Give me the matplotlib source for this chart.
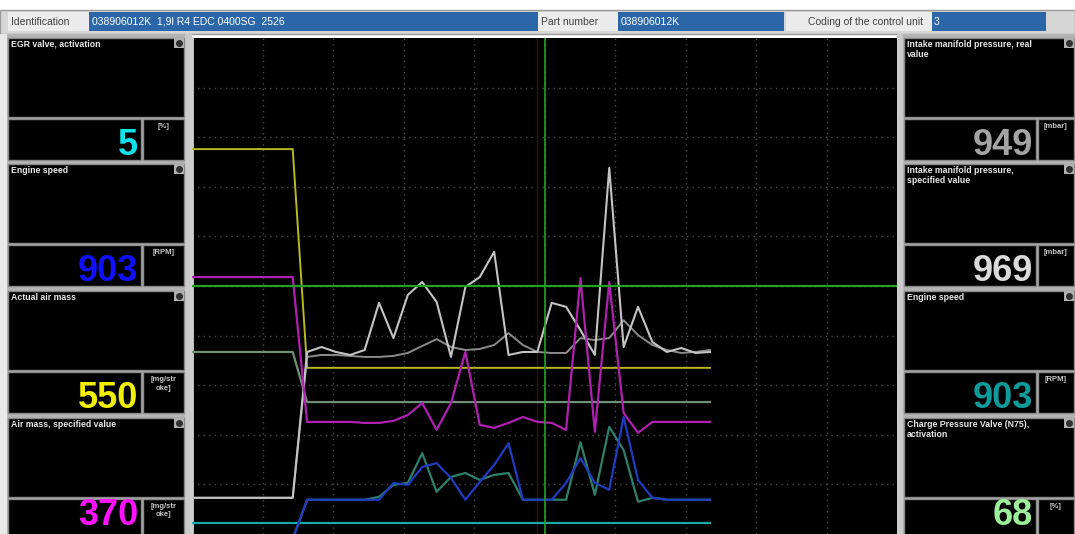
import matplotlib.pyplot as plt
from matplotlib.patches import Rectangle
import numpy as np

samples = np.arange(37)

actual_air_mass = [77.6] * 8 + [33.5] * 29
air_mass_spec = [51.8] * 8 + [22.6, 22.6, 22.6, 22.6, 22.4, 22.4, 22.8, 24.0, 26.4, 21.0, 26.4, 36.7, 22.0, 21.4,
                              22.4, 23.6, 22.6, 22.4, 21.0, 51.6, 20.6, 50.8, 24.4, 20.4, 22.6, 22.6, 22.6, 22.6, 22.6]
map_real = [7.3] * 8 + [36.7, 37.7, 36.7, 36.1, 37.1, 46.6, 39.5, 48.2, 50.8, 46.8, 35.7, 49.8, 51.8, 56.9,
                        36.1, 36.7, 36.7, 46.6, 45.8, 41.1, 36.1, 73.8, 37.7, 45.8, 38.7, 36.7, 37.5, 36.5, 36.7]
map_spec = [7.3] * 8 + [35.7, 36.1, 36.1, 35.9, 35.7, 35.7, 35.9, 36.5, 37.9, 39.3, 37.7, 37.1, 37.3, 38.1,
                        40.5, 38.1, 36.7, 36.5, 36.5, 39.5, 39.1, 39.5, 43.1, 40.1, 38.1, 37.1, 36.5, 36.7, 37.1]
charge_valve = [36.7] * 8 + [26.6] * 29
egr_valve = [2.2] * 37
engine_speed_l = [-1.0] * 8 + [6.9, 6.9, 6.9, 6.9, 6.9, 6.9, 10.3, 9.9, 13.5, 14.3, 11.3, 6.9, 10.5, 13.9,
                               18.3, 6.9, 6.9, 6.9, 10.3, 15.3, 10.3, 8.9, 23.6, 10.9, 7.3, 6.9, 6.9, 6.9, 6.9]
engine_speed_r = [-1.0] * 8 + [6.9, 6.9, 6.9, 6.9, 6.9, 7.5, 9.9, 10.3, 16.3, 8.5, 11.5, 12.3, 10.9, 11.9,
                               12.3, 6.9, 6.9, 6.9, 6.9, 18.5, 7.9, 21.6, 16.9, 6.5, 7.3, 6.9, 6.9, 6.9, 6.9]

left_titles = ["EGR valve, activation", "Engine speed", "Actual air mass", "Air mass, specified value"]
left_values = ["5", "903", "550", "370"]
left_units = ["[%]", "[RPM]", "[mg/str\noke]", "[mg/str\noke]"]
left_colors = ["#10e0ea", "#1010ff", "#f0f000", "#ff10ff"]

right_titles = ["Intake manifold pressure, real\nvalue", "Intake manifold pressure,\nspecified value",
                "Engine speed", "Charge Pressure Valve (N75),\nactivation"]
right_values = ["949", "969", "903", "68"]
right_units = ["[mbar]", "[mbar]", "[RPM]", "[%]"]
right_colors = ["#a4a4a4", "#dadada", "#0c9a9a", "#9cf09c"]

ident = "038906012K  1,9l R4 EDC 0400SG  2526"
part_number = "038906012K"
coding = "3"

plt.rcParams['font.family'] = ['Liberation Sans', 'DejaVu Sans']

fig = plt.figure(figsize=(10.75, 5.34), dpi=100, facecolor='white')

# background layer in pixel coordinates for the window frame
bg = fig.add_axes([0, 0, 1, 1])
bg.set_xlim(0, 1075)
bg.set_ylim(534, 0)
bg.axis('off')

def box(x0, y0, x1, y1, color, edge=None, z=1):
    bg.add_patch(Rectangle((x0, y0), x1 - x0, y1 - y0, facecolor=color,
                           edgecolor=edge if edge else 'none', lw=1, zorder=z))

# top info bar
box(0, 10, 1075, 34, '#d6d6d6', '#9a9a9a')
box(8, 12, 89, 31, '#ececec')
box(89, 12, 540, 31, '#2b67a8')
box(538, 12, 618, 31, '#ececec')
box(618, 12, 784, 31, '#2b67a8')
box(786, 12, 932, 31, '#ececec')
box(932, 12, 1046, 31, '#2b67a8')
bg.text(11, 22, "Identification", fontsize=7.5, color='#404040', va='center')
bg.text(92, 22, ident, fontsize=7.5, color='white', va='center')
bg.text(541, 22, "Part number", fontsize=7.5, color='#404040', va='center')
bg.text(621, 22, part_number, fontsize=7.5, color='white', va='center')
bg.text(808, 22, "Coding of the control unit", fontsize=7.5, color='#404040', va='center')
bg.text(934, 22, coding, fontsize=7.5, color='white', va='center')

# side columns
box(0, 34, 192, 534, '#b4b4b4')
box(0, 34, 7, 534, '#e8e8e8')
box(185, 34, 192, 534, '#cacaca')
box(897, 34, 1075, 534, '#b4b4b4')
box(897, 34, 903, 534, '#cacaca')

tops = [37, 163, 290, 417]

def panel(x0, x1, xsplit, top, title, value, unit, color):
    box(x0, top + 1, x1, top + 80, 'black', '#8a8a8a', 2)
    box(x0, top + 82, xsplit, top + 123, 'black', '#8a8a8a', 2)
    box(xsplit + 2, top + 82, x1, top + 123, 'black', '#8a8a8a', 2)
    box(x1 - 10, top + 1, x1, top + 11, '#b0b0b0', None, 3)
    bg.plot([x1 - 5], [top + 6], 'o', ms=4, color='#303030', zorder=4)
    bg.text(x0 + 3, top + 3, title, fontsize=6.3, fontweight='bold', color='#e8e8e8',
            va='top', ha='left', linespacing=1.15, zorder=4)
    # last row is cut by the window edge, keep the digits inside
    base = min(top + 118, 525)
    bg.text(xsplit - 3, base, value, fontsize=26, fontweight='bold', color=color,
            ha='right', va='baseline', zorder=4)
    bg.text((xsplit + x1) / 2 + 1, top + 86, unit, fontsize=5.5, fontweight='bold',
            color='#c8c8c8', ha='center', va='top', linespacing=1.3, zorder=4)

for i in range(4):
    panel(8, 184, 141, tops[i], left_titles[i], left_values[i], left_units[i], left_colors[i])
    panel(904, 1074, 1036, tops[i], right_titles[i], right_values[i], right_units[i], right_colors[i])

# graph area
ax = fig.add_axes([192 / 1075, 0, 705 / 1075, 496 / 534])
ax.set_facecolor('black')
ax.set_xlim(0, 49)
ax.set_ylim(0, 100)
for v in np.linspace(0, 49, 11)[1:-1]:
    ax.axvline(v, color='#4a4a4a', lw=1, ls=(0, (1, 3)), zorder=1)
for h in np.linspace(0, 100, 11)[1:-1]:
    ax.axhline(h, color='#4a4a4a', lw=1, ls=(0, (1, 3)), zorder=1)

ax.plot(samples, egr_valve, color='#1aa8a8', lw=1.6, zorder=3)
ax.plot(samples, charge_valve, color='#6f8f78', lw=1.6, zorder=3)
ax.plot(samples, actual_air_mass, color='#b8b820', lw=1.4, zorder=3)
ax.plot(samples, map_spec, color='#8c8c8c', lw=1.4, zorder=3)
ax.plot(samples, map_real, color='#c4c4c4', lw=1.5, zorder=3)
ax.plot(samples, engine_speed_r, color='#2f7f6a', lw=1.6, zorder=3)
ax.plot(samples, engine_speed_l, color='#1f3cc0', lw=1.6, zorder=3)
ax.plot(samples, air_mass_spec, color='#b020b0', lw=1.6, zorder=4)

# cursor
ax.axvline(24.0, color='#3a0c0c', lw=1, zorder=2)
ax.axvline(24.5, color='#22a022', lw=1.2, zorder=5)
ax.axhline(50, color='#22a022', lw=1.6, zorder=5)

ax.set_xticks([])
ax.set_yticks([])
for s in ax.spines.values():
    s.set_visible(False)
ax.spines['left'].set_visible(True)
ax.spines['left'].set_color('#d0d0d0')
ax.spines['left'].set_linewidth(2)

fig.savefig('out.png', dpi=100, facecolor='white')
